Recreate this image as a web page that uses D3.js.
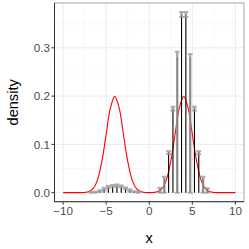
<!DOCTYPE html>
<html>
<head>
<meta charset="utf-8">
<script src="https://cdn.jsdelivr.net/npm/d3@7"></script>
<style>
body { margin: 0; background: #fff; }
text { font-family: "Liberation Sans", Arial, sans-serif; }
</style>
</head>
<body>
<div id="chart"></div>
<script>

// red curve
var curveX = [-10,-9.5,-9,-8.5,-8,-7.5,-7,-6.5,-6,-5.5,-5,-4.5,-4,-3.5,-3,-2.5,-2,-1.5,-1,-0.5,
              0,0.5,1,1.5,2,2.5,3,3.5,4,4.5,5,5.5,6,6.5,7,7.5,8,8.5,9,9.5,10];
var curveY = [0,0,0,0.00001,0.00007,0.0004,0.0022,0.0088,0.027,0.065,0.121,0.176,0.1995,0.176,0.121,0.065,0.027,0.0088,0.0022,0.0004,
              0.0001,0.0004,0.0022,0.0088,0.027,0.065,0.121,0.176,0.1995,0.176,0.121,0.065,0.027,0.0088,0.0022,0.0004,0.00007,0.00001,0,0,0];

// histogram estimates (bin mids) with error bars
var binMid = [-6.75,-6.25,-5.75,-5.25,-4.75,-4.25,-3.75,-3.25,-2.75,-2.25,-1.75,-1.25,
              1.25,1.75,2.25,2.75,3.25,3.75,4.25,4.75,5.25,5.75,6.25,6.75];
var binEst = [0.0005,0.001,0.003,0.007,0.011,0.014,0.015,0.013,0.009,0.005,0.002,0.001,
              0.008,0.030,0.084,0.175,0.280,0.369,0.369,0.280,0.175,0.085,0.030,0.008];
var binLo  = [0,0,0.002,0.005,0.009,0.012,0.013,0.011,0.007,0.003,0.001,0,
              0.000,0.000,0.080,0.170,0.000,0.364,0.364,0.000,0.170,0.080,0.000,0.000];
var binHi  = [0.001,0.002,0.005,0.010,0.014,0.016,0.017,0.015,0.011,0.007,0.003,0.002,
              0.010,0.033,0.086,0.178,0.292,0.374,0.374,0.287,0.178,0.086,0.033,0.009];

var xTicks = [-10,-5,0,5,10];
var yTicks = [0,0.1,0.2,0.3];
var xMinor = [-7.5,-2.5,2.5,7.5];
var yMinor = [0.05,0.15,0.25,0.35];

var width = 249, height = 249;
var panel = {left: 54.5, right: 244, top: 3, bottom: 201.7};

var x = d3.scaleLinear().domain([-11, 11]).range([panel.left, panel.right]);
var y = d3.scaleLinear().domain([-0.0187, 0.3928]).range([panel.bottom, panel.top]);

var svg = d3.select("#chart")
            .append("svg")
            .attr("width", width)
            .attr("height", height);

// grid
svg.selectAll("line.xminor")
  .data(xMinor)
  .enter()
  .append("line")
  .attr("x1", function(d){ return x(d); })
  .attr("x2", function(d){ return x(d); })
  .attr("y1", panel.top)
  .attr("y2", panel.bottom)
  .style("stroke", "#f3f3f3")
  .style("stroke-width", 0.5);

svg.selectAll("line.yminor")
  .data(yMinor)
  .enter()
  .append("line")
  .attr("x1", panel.left)
  .attr("x2", panel.right)
  .attr("y1", function(d){ return y(d); })
  .attr("y2", function(d){ return y(d); })
  .style("stroke", "#f3f3f3")
  .style("stroke-width", 0.5);

svg.selectAll("line.xmajor")
  .data(xTicks)
  .enter()
  .append("line")
  .attr("x1", function(d){ return x(d); })
  .attr("x2", function(d){ return x(d); })
  .attr("y1", panel.top)
  .attr("y2", panel.bottom)
  .style("stroke", "#ebebeb")
  .style("stroke-width", 1);

svg.selectAll("line.ymajor")
  .data(yTicks)
  .enter()
  .append("line")
  .attr("x1", panel.left)
  .attr("x2", panel.right)
  .attr("y1", function(d){ return y(d); })
  .attr("y2", function(d){ return y(d); })
  .style("stroke", "#ebebeb")
  .style("stroke-width", 1);

// red density curve
var curvePts = curveX.map(function(d,i){ return [d, curveY[i]]; });
svg.append("path")
  .datum(curvePts)
  .attr("d", d3.line()
        .x(function(d){ return x(d[0]); })
        .y(function(d){ return y(d[1]); })
        .curve(d3.curveCatmullRom))
  .style("fill", "none")
  .style("stroke", "#ff0000")
  .style("stroke-width", 1.1);

// black segments
svg.selectAll("line.est")
  .data(binMid)
  .enter()
  .append("line")
  .attr("x1", function(d){ return x(d); })
  .attr("x2", function(d){ return x(d); })
  .attr("y1", y(0))
  .attr("y2", function(d,i){ return y(binEst[i]); })
  .style("stroke", "#000")
  .style("stroke-width", 1.1);

// gray error bars
var eb = svg.append("g").style("opacity", 0.8);
eb.selectAll("line.ebv")
  .data(binMid)
  .enter()
  .append("line")
  .attr("x1", function(d){ return x(d); })
  .attr("x2", function(d){ return x(d); })
  .attr("y1", function(d,i){ return y(binLo[i]); })
  .attr("y2", function(d,i){ return y(binHi[i]); })
  .style("stroke", "#999")
  .style("stroke-width", 2.5);

eb.selectAll("line.ebt")
  .data(binMid)
  .enter()
  .append("line")
  .attr("x1", function(d){ return x(d) - 2.4; })
  .attr("x2", function(d){ return x(d) + 2.4; })
  .attr("y1", function(d,i){ return y(binHi[i]); })
  .attr("y2", function(d,i){ return y(binHi[i]); })
  .style("stroke", "#999")
  .style("stroke-width", 2);

eb.selectAll("line.ebb")
  .data(binMid)
  .enter()
  .append("line")
  .attr("x1", function(d){ return x(d) - 2.4; })
  .attr("x2", function(d){ return x(d) + 2.4; })
  .attr("y1", function(d,i){ return y(binLo[i]); })
  .attr("y2", function(d,i){ return y(binLo[i]); })
  .style("stroke", "#999")
  .style("stroke-width", 2);

// panel border
svg.append("rect")
  .attr("x", panel.left)
  .attr("y", panel.top)
  .attr("width", panel.right - panel.left)
  .attr("height", panel.bottom - panel.top)
  .style("fill", "none")
  .style("stroke", "#a6a6a6")
  .style("stroke-width", 1);

// axis lines
svg.append("line")
  .attr("x1", panel.left).attr("x2", panel.left)
  .attr("y1", panel.top).attr("y2", panel.bottom)
  .style("stroke", "#333").style("stroke-width", 1);
svg.append("line")
  .attr("x1", panel.left).attr("x2", panel.right)
  .attr("y1", panel.bottom).attr("y2", panel.bottom)
  .style("stroke", "#333").style("stroke-width", 1);

// ticks
svg.selectAll("line.xtick")
  .data(xTicks)
  .enter()
  .append("line")
  .attr("x1", function(d){ return x(d); })
  .attr("x2", function(d){ return x(d); })
  .attr("y1", panel.bottom)
  .attr("y2", panel.bottom + 3)
  .style("stroke", "#333");

svg.selectAll("line.ytick")
  .data(yTicks)
  .enter()
  .append("line")
  .attr("x1", panel.left - 3)
  .attr("x2", panel.left)
  .attr("y1", function(d){ return y(d); })
  .attr("y2", function(d){ return y(d); })
  .style("stroke", "#333");

svg.selectAll("text.xlab")
  .data(xTicks)
  .enter()
  .append("text")
  .attr("x", function(d){ return x(d); })
  .attr("y", 215)
  .attr("text-anchor", "middle")
  .attr("font-size", "11.7px")
  .style("fill", "#4d4d4d")
  .text(function(d){ return d < 0 ? "\u2212" + Math.abs(d) : d; });

svg.selectAll("text.ylab")
  .data(yTicks)
  .enter()
  .append("text")
  .attr("x", 50)
  .attr("y", function(d){ return y(d) + 4.2; })
  .attr("text-anchor", "end")
  .attr("font-size", "11.7px")
  .style("fill", "#4d4d4d")
  .text(function(d){ return d.toFixed(1); });

// axis titles
svg.append("text")
  .attr("x", x(0))
  .attr("y", 243)
  .attr("text-anchor", "middle")
  .attr("font-size", "14.6px")
  .style("fill", "#000")
  .text("x");

svg.append("text")
  .attr("transform", "translate(18," + ((panel.top + panel.bottom) / 2) + ") rotate(-90)")
  .attr("text-anchor", "middle")
  .attr("font-size", "14.6px")
  .style("fill", "#000")
  .text("density");

</script>
</body>
</html>
